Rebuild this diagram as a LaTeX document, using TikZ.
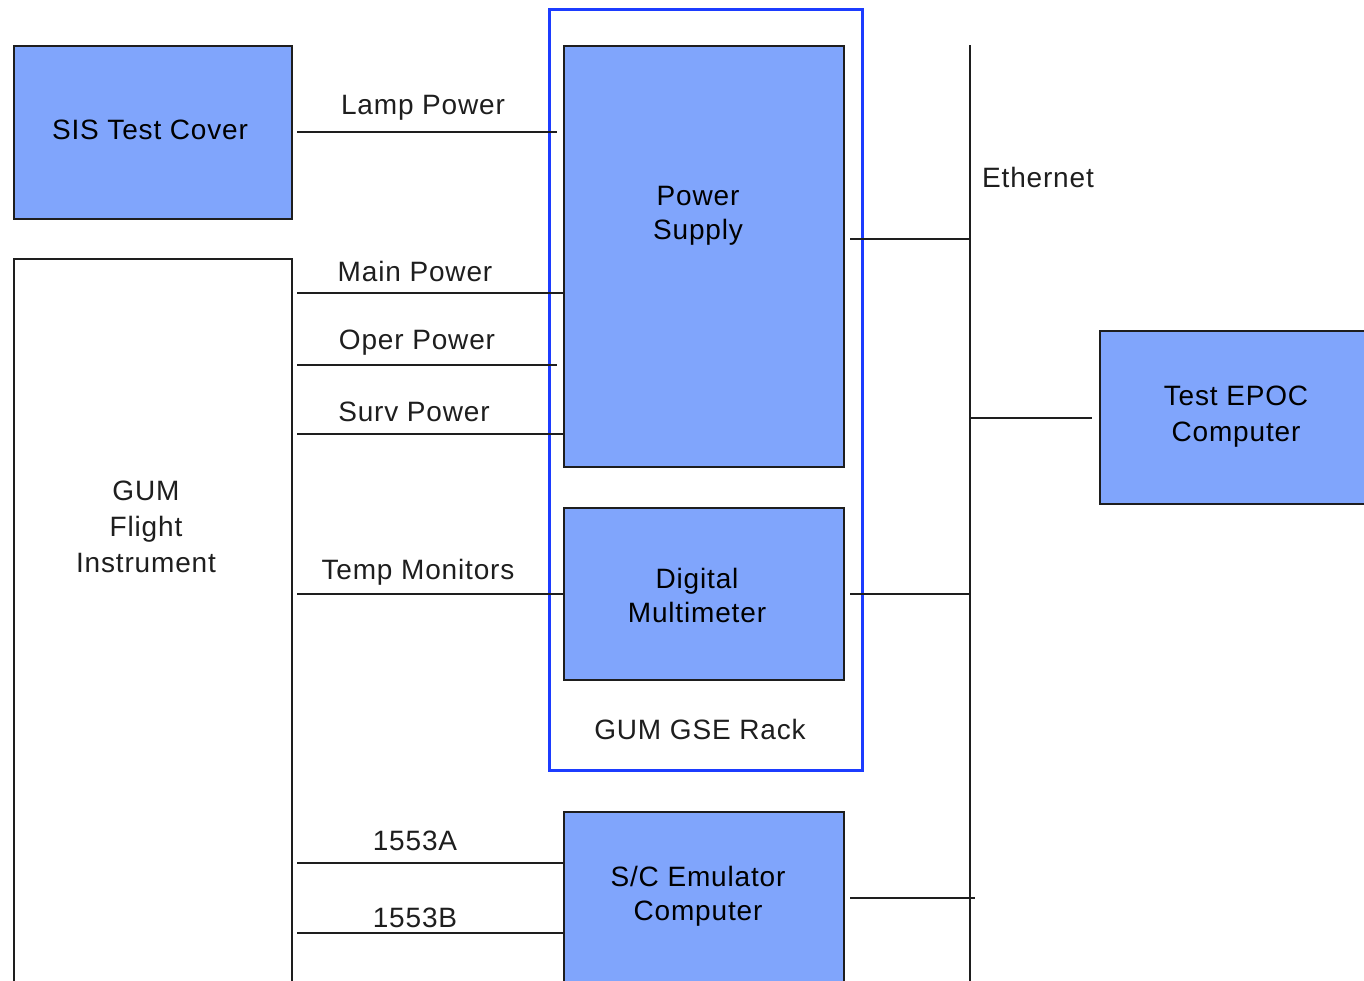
\documentclass[tikz,border=0pt]{standalone}
\usepackage{fontspec}
\setmainfont{Liberation Sans}[LetterSpace=3]
\definecolor{boxblue}{RGB}{128,165,252}
\definecolor{rackblue}{RGB}{28,60,255}
\definecolor{inkgray}{RGB}{30,30,30}
\begin{document}
\begin{tikzpicture}[x=1pt,y=-1pt,
  unit/.style={draw=inkgray,line width=2pt,fill=boxblue,anchor=north west,
    inner sep=0pt},
  plain/.style={unit,fill=white},
  txt/.style={align=center,inner sep=0pt,font=\fontsize{28}{36}\selectfont},
  wire/.style={draw=inkgray,line width=1.8pt},
  lbl/.style={font=\fontsize{28}{30}\selectfont,text=inkgray,inner sep=0pt}]
\useasboundingbox (0,0) rectangle (1364,980);
\clip (0,0) rectangle (1364,980);

% rack enclosure
\node[draw=rackblue,line width=3pt,anchor=north west,minimum width=313pt,
  minimum height=761pt,inner sep=0pt] (rack) at (548,8) {};
\node[lbl] (racklbl) at (700,729) {GUM GSE Rack};

% units
\node[unit,minimum width=278pt,minimum height=173pt] (sis) at (13,45) {};
\node[txt] (sislbl) at (150,130) {SIS Test Cover};
\node[plain,minimum width=278pt,minimum height=760pt] (gum) at (13,258) {};
\node[txt,text=inkgray] (gumlbl) at (146,527) {GUM\\Flight\\Instrument};
\node[unit,minimum width=280pt,minimum height=421pt] (ps) at (563,45) {};
\node[txt,font=\fontsize{28}{34}\selectfont] (pslbl) at (698,216) {Power\\Supply};
\node[unit,minimum width=280pt,minimum height=172pt] (dmm) at (563,507) {};
\node[txt,font=\fontsize{28}{34}\selectfont] (dmmlbl) at (697,595) {Digital\\Multimeter};
\node[unit,minimum width=280pt,minimum height=220pt] (sce) at (563,811) {};
\node[txt,font=\fontsize{28}{34}\selectfont] (scelbl) at (698,896) {S/C Emulator\\Computer};
\node[unit,minimum width=300pt,minimum height=173pt] (epoc) at (1099,330) {};
\node[txt] (epoclbl) at (1236,417) {Test EPOC\\Computer};

% ethernet backbone
\coordinate (ethtop) at (970,45);
\coordinate (ethbot) at (970,985);
\draw[wire] (ethtop) -- (ethbot);
\node[lbl] (ethlbl) at (1038,177) {Ethernet};

% harness from the cover and instrument to the rack
\draw[wire] ([xshift=4pt]sis.east |- 0,132) -- ([xshift=-6pt]ps.west |- 0,132);
\node[lbl] at (423,108) {Lamp Power};
\draw[wire] ([xshift=4pt]gum.east |- 0,293) -- (ps.west |- 0,293);
\node[lbl] at (415,271) {Main Power};
\draw[wire] ([xshift=4pt]gum.east |- 0,365) -- ([xshift=-6pt]ps.west |- 0,365);
\node[lbl] at (417,343) {Oper Power};
\draw[wire] ([xshift=4pt]gum.east |- 0,434) -- (ps.west |- 0,434);
\node[lbl] at (414,412) {Surv Power};
\draw[wire] ([xshift=4pt]gum.east |- 0,594) -- (dmm.west |- 0,594);
\node[lbl] at (418,572) {Temp Monitors};
\draw[wire] ([xshift=4pt]gum.east |- 0,863) -- (sce.west |- 0,863);
\node[lbl] at (415,841) {1553A};
\draw[wire] ([xshift=4pt]gum.east |- 0,933) -- (sce.west |- 0,933);
\node[lbl] at (415,918) {1553B};

% network drops
\draw[wire] ([xshift=5pt]ps.east |- 0,239) -- (ethtop |- 0,239);
\draw[wire] ([xshift=5pt]dmm.east |- 0,594) -- (ethtop |- 0,594);
\draw[wire] ([xshift=5pt]sce.east |- 0,898) -- ([xshift=5pt]ethtop |- 0,898);
\draw[wire] (ethtop |- 0,418) -- ([xshift=-7pt]epoc.west |- 0,418);
\end{tikzpicture}
\end{document}
